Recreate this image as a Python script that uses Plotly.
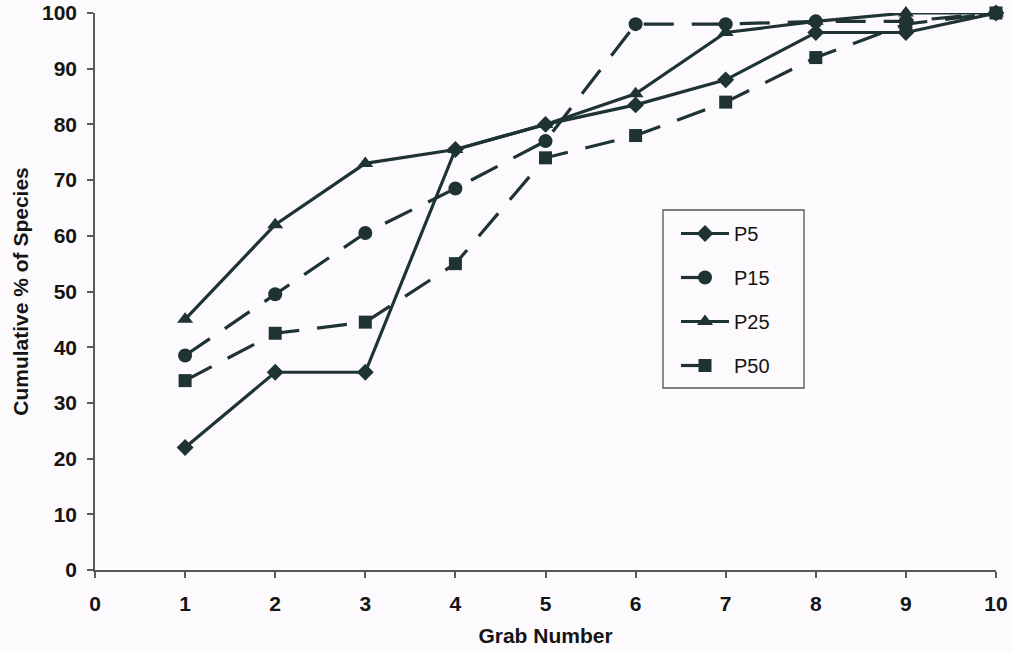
import plotly.graph_objects as go

# Grab numbers (x) and cumulative percentage of species for each station
grabs = [1, 2, 3, 4, 5, 6, 7, 8, 9, 10]
p5 = [22, 35.5, 35.5, 75.5, 80, 83.5, 88, 96.5, 96.5, 100]
p15 = [38.5, 49.5, 60.5, 68.5, 77, 98, 98, 98.5, 98.5, 100]
p25 = [45, 62, 73, 75.5, 80, 85.5, 96.5, 98.5, 100, 100]
p50 = [34, 42.5, 44.5, 55, 74, 78, 84, 92, 98, 100]

x_ticks = [0, 1, 2, 3, 4, 5, 6, 7, 8, 9, 10]
y_ticks = [0, 10, 20, 30, 40, 50, 60, 70, 80, 90, 100]

INK = "#1f3333"
TEXT = "#141414"
AXIS = "#5a5a5a"
FONT = "Liberation Sans"
DASH = "30px,18px"

series = [
    ("P5", p5, "diamond", 13, "solid"),
    ("P15", p15, "circle", 14, DASH),
    ("P25", p25, "triangle-up", 14, "solid"),
    ("P50", p50, "square", 13, DASH),
]

fig = go.Figure()
for name, vals, sym, size, dash in series:
    fig.add_trace(go.Scatter(
        x=grabs, y=vals, name=name, legendgroup=name,
        mode="lines+markers",
        line=dict(color=INK, width=3.2, dash=dash),
        marker=dict(symbol=sym, size=size, color=INK, line=dict(width=0)),
        cliponaxis=False,
    ))

L, R, T, B = 95, 17, 13, 82
W, H = 1013, 652
pw, ph = W - L - R, H - T - B

# legend frame
bx0, bx1, by0, by1 = 663, 804, 210, 388
fig.add_shape(
    type="rect", xref="paper", yref="paper",
    x0=(bx0 - L) / pw, x1=(bx1 - L) / pw,
    y0=1 - (by1 - T) / ph, y1=1 - (by0 - T) / ph,
    line=dict(color="#555555", width=1.3), fillcolor="rgba(0,0,0,0)",
)

tick_font = dict(family=FONT, size=21, color=TEXT, weight="bold")

fig.update_layout(
    width=W, height=H,
    margin=dict(l=L, r=R, t=T, b=B),
    paper_bgcolor="#fcfafc", plot_bgcolor="#fcfafc",
    font=dict(family=FONT, color=TEXT),
    showlegend=True,
    legend=dict(
        x=(676 - L) / pw, y=1 - (214 - T) / ph,
        xanchor="left", yanchor="top",
        bgcolor="rgba(0,0,0,0)", borderwidth=0,
        font=dict(family=FONT, size=20, color=TEXT),
        tracegroupgap=15, itemwidth=48,
    ),
    xaxis=dict(
        range=[0, 10], tickvals=x_ticks, ticktext=[str(v) for v in x_ticks],
        showgrid=False, zeroline=False, automargin=False,
        showline=True, linecolor=AXIS, linewidth=1.5,
        ticks="outside", ticklen=6, tickwidth=1.5, tickcolor=AXIS,
        tickfont=tick_font, ticklabelstandoff=8,
        title=dict(text="Grab Number", standoff=14,
                   font=dict(family=FONT, size=21, color=TEXT, weight="bold")),
    ),
    yaxis=dict(
        range=[0, 100], tickvals=y_ticks, ticktext=[str(v) for v in y_ticks],
        showgrid=False, zeroline=False, automargin=False,
        showline=True, linecolor=AXIS, linewidth=1.5,
        ticks="outside", ticklen=6, tickwidth=1.5, tickcolor=AXIS,
        tickfont=tick_font, ticklabelstandoff=6,
        title=dict(text="Cumulative % of Species", standoff=8,
                   font=dict(family=FONT, size=21, color=TEXT, weight="bold")),
    ),
)

fig.write_html("out.html")
